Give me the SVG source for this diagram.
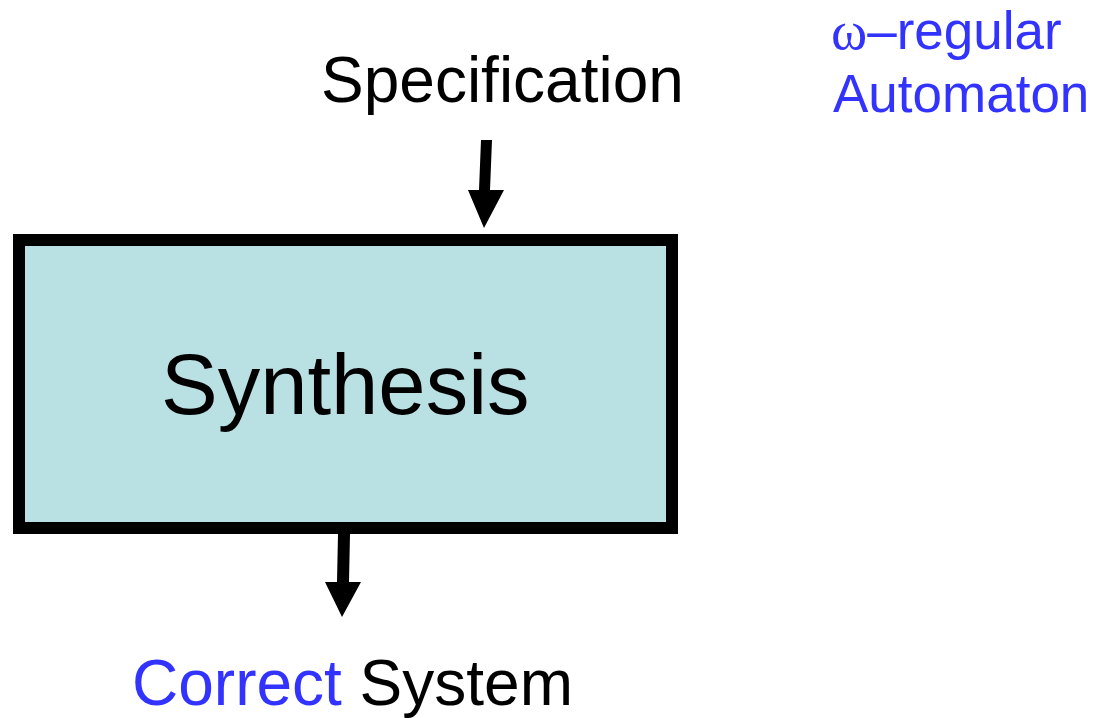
<svg xmlns="http://www.w3.org/2000/svg" width="1097" height="718" viewBox="0 0 1097 718">
  <style>
    .lbl { font-family: "Liberation Sans", Arial, sans-serif; fill: #000; }
    .blue { fill: #3333FF; }
    .arrow { fill: #000; stroke: none; }
  </style>
  <rect x="0" y="0" width="1097" height="718" fill="#FFFFFF"/>

  <g id="synthesis">
    <rect x="19" y="240" width="653" height="288" fill="#B9E0E3" stroke="#000" stroke-width="12"/>
    <text class="lbl" x="161" y="414" font-size="85">Synthesis</text>
  </g>

  <g id="specification">
    <text class="lbl" x="321" y="102" font-size="64">Specification</text>
  </g>

  <g id="automaton-note">
    <text class="lbl blue" x="831" y="49" font-size="53"><tspan font-family="Liberation Serif, serif" font-size="55">ω</tspan>–regular</text>
    <text class="lbl blue" x="833" y="112" font-size="53">Automaton</text>
  </g>

  <g id="correct-system">
    <text class="lbl" x="132" y="705" font-size="64"><tspan class="blue">Correct</tspan> System</text>
  </g>

  <g id="connectors">
    <polygon class="arrow" points="481,140 492,140 490,190 504,190 484,228 468,190 479,190"/>
    <polygon class="arrow" points="338,534 350,534 349,582 361,582 342,617 325,582 337,582"/>
  </g>
</svg>
